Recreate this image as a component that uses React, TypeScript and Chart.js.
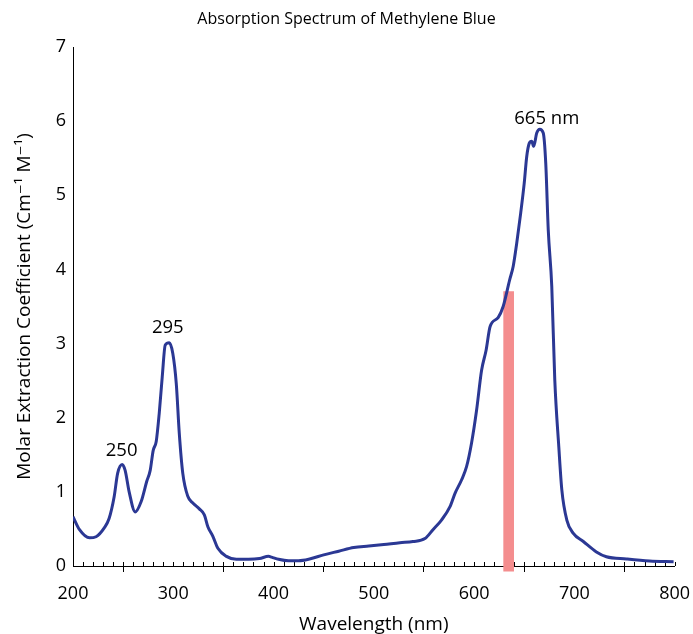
import React, { useEffect, useRef } from "react";
import { Chart, registerables } from "chart.js";

Chart.register(...registerables);

// Wavelength (nm) and molar extinction coefficient readings
const wavelengths = [
  200, 206.5, 216.5, 223, 231, 236, 241, 244.5, 249, 252, 256, 262, 268, 273.5, 277, 280, 283, 286, 289, 292,
  296, 299.5, 303, 306, 309.5, 314.5, 319.5, 326, 331, 334.5, 339.5, 344.5, 353, 363, 375, 386, 395, 398, 405,
  415, 425, 435, 450, 465, 480, 495, 510, 526, 539, 551, 559, 567.5, 576, 581, 587.5, 592.5, 597.5, 602.5,
  607.5, 612, 616, 624, 629, 635.5, 639, 642.5, 646.5, 650, 652.5, 655, 657.5, 659.5, 662.5, 665.5, 669,
  671.5, 674, 677.5, 680.5, 684.5, 687.5, 692.5, 699, 709, 722, 732, 752, 775, 799,
];
const absorbance = [
  0.665, 0.49, 0.38, 0.395, 0.51, 0.64, 0.93, 1.25, 1.37, 1.29, 1.0, 0.73, 0.87, 1.14, 1.29, 1.56, 1.68, 2.06,
  2.55, 2.98, 3.01, 2.87, 2.46, 1.79, 1.25, 0.94, 0.85, 0.77, 0.69, 0.53, 0.4, 0.24, 0.13, 0.09, 0.09, 0.1,
  0.13, 0.12, 0.09, 0.07, 0.07, 0.09, 0.15, 0.2, 0.25, 0.27, 0.29, 0.315, 0.33, 0.37, 0.49, 0.62, 0.8, 0.98,
  1.16, 1.34, 1.66, 2.1, 2.64, 2.91, 3.23, 3.35, 3.5, 3.86, 4.04, 4.35, 4.76, 5.16, 5.52, 5.7, 5.73, 5.66,
  5.84, 5.89, 5.84, 5.43, 4.53, 3.77, 2.51, 1.61, 1.03, 0.62, 0.44, 0.33, 0.19, 0.125, 0.094, 0.067, 0.058,
];

// Highlighted band (red bar)
const bandCenter = [634.5];
const bandRange = [[-0.07, 3.7]];

// Peak labels
const peakLabels = ["250", "295", "665 nm"];
const peakLabelX = [248.5, 294.5, 672.5];
const peakLabelY = [1.55, 3.22, 6.03];

const xTicks = [200, 300, 400, 500, 600, 700, 800];
const yTicks = [0, 1, 2, 3, 4, 5, 6, 7];

const FONT = "'Open Sans', 'DejaVu Sans', sans-serif";
const INK = "#000";

export default function App() {
  const ref = useRef<HTMLCanvasElement | null>(null);

  useEffect(() => {
    if (!ref.current) return;

    const minorTicks = {
      id: "minorTicks",
      beforeDatasetsDraw(chart: any) {
        const xs = chart.scales.x;
        const ys = chart.scales.y;
        const y0 = ys.getPixelForValue(0);
        const ctx = chart.ctx;
        ctx.save();
        ctx.strokeStyle = INK;
        ctx.lineWidth = 1;
        ctx.beginPath();
        for (let v = xTicks[0]; v <= xTicks[xTicks.length - 1]; v += 10) {
          const px = Math.round(xs.getPixelForValue(v)) + 0.5;
          ctx.moveTo(px, y0 - 4);
          ctx.lineTo(px, y0);
        }
        ctx.stroke();
        ctx.restore();
      },
    };

    const peakText = {
      id: "peakText",
      afterDatasetsDraw(chart: any) {
        const xs = chart.scales.x;
        const ys = chart.scales.y;
        const ctx = chart.ctx;
        ctx.save();
        ctx.fillStyle = INK;
        ctx.font = `18.5px ${FONT}`;
        ctx.textAlign = "center";
        ctx.textBaseline = "middle";
        peakLabels.forEach((t, i) => {
          ctx.fillText(t, xs.getPixelForValue(peakLabelX[i]), ys.getPixelForValue(peakLabelY[i]));
        });
        ctx.restore();
      },
    };

    const chart = new Chart(ref.current, {
      type: "line",
      data: {
        datasets: [
          {
            type: "line",
            label: "Methylene Blue",
            data: wavelengths.map((w, i) => ({ x: w, y: absorbance[i] })),
            borderColor: "#2b3894",
            borderWidth: 3,
            pointRadius: 0,
            fill: false,
            cubicInterpolationMode: "monotone",
            order: 0,
          } as any,
          {
            type: "bar",
            label: "Band",
            data: bandCenter.map((c, i) => ({ x: c, y: bandRange[i] })),
            backgroundColor: "#f48d8e",
            borderWidth: 0,
            barThickness: 10,
            clip: false,
            order: 1,
          } as any,
        ],
      },
      options: {
        animation: false,
        responsive: true,
        maintainAspectRatio: false,
        layout: { padding: 0 },
        plugins: {
          legend: { display: false },
          tooltip: { enabled: false },
          title: {
            display: true,
            text: "Absorption Spectrum of Methylene Blue",
            color: INK,
            font: { family: FONT, size: 16, weight: "normal" },
            padding: { top: 10, bottom: 17.8 },
          },
        },
        scales: {
          x: {
            type: "linear",
            min: 200,
            max: 800,
            offset: false,
            afterBuildTicks(scale: any) {
              scale.ticks = xTicks.map((v) => ({ value: v }));
            },
            afterFit(scale: any) {
              scale.height = 68;
              scale.paddingLeft = 0;
              scale.paddingRight = 18.4;
            },
            grid: {
              display: true,
              drawOnChartArea: false,
              drawTicks: true,
              tickLength: 6,
              color: INK,
            },
            border: { display: true, color: INK, width: 1 },
            ticks: {
              color: INK,
              font: { family: FONT, size: 18 },
              padding: 11.5,
              maxRotation: 0,
            },
            title: {
              display: true,
              text: "Wavelength (nm)",
              color: INK,
              font: { family: FONT, size: 19 },
              padding: { top: 0, bottom: -1.5 },
            },
          },
          y: {
            type: "linear",
            min: 0,
            max: 7,
            afterBuildTicks(scale: any) {
              scale.ticks = yTicks.map((v) => ({ value: v }));
            },
            afterFit(scale: any) {
              scale.width = 73;
              scale.paddingTop = 0;
              scale.paddingBottom = 0;
            },
            grid: { display: false, drawTicks: false, tickLength: 0 },
            border: { display: true, color: INK, width: 1 },
            ticks: {
              color: INK,
              font: { family: FONT, size: 18 },
              padding: 7,
            },
            title: {
              display: true,
              text: "Molar Extraction Coefficient (Cm\u207B\u00B9 M\u207B\u00B9)",
              color: INK,
              font: { family: FONT, size: 19 },
              padding: { top: 13.5, bottom: 0 },
            },
          },
        },
      } as any,
      plugins: [minorTicks, peakText],
    });

    return () => chart.destroy();
  }, []);

  return (
    <div style={{ position: "fixed", left: 0, top: 0, width: 693, height: 634, background: "#fff" }}>
      <canvas ref={ref} />
    </div>
  );
}
